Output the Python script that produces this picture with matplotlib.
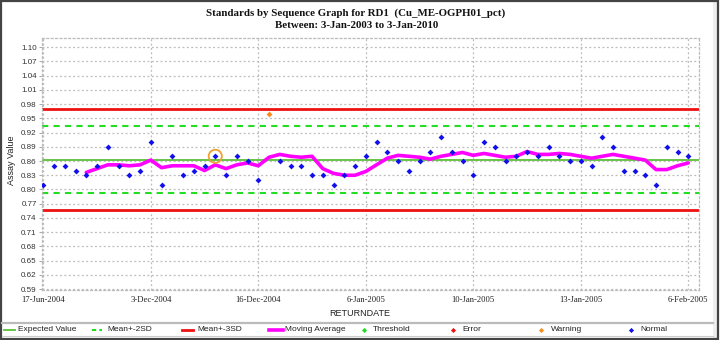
import matplotlib
matplotlib.use("Agg")
import matplotlib.pyplot as plt
from matplotlib.lines import Line2D
from matplotlib.patches import Rectangle

# ---- data ----
values = [0.81, 0.85, 0.85, 0.84, 0.83, 0.85, 0.89, 0.85, 0.83, 0.84,
          0.90, 0.81, 0.87, 0.83, 0.84, 0.85, 0.87, 0.83, 0.87, 0.86,
          0.82, 0.96, 0.86, 0.85, 0.85, 0.83, 0.83, 0.81, 0.83, 0.85,
          0.87, 0.90, 0.88, 0.86, 0.84, 0.86, 0.88, 0.91, 0.88, 0.86,
          0.83, 0.90, 0.89, 0.86, 0.87, 0.88, 0.87, 0.89, 0.87, 0.86,
          0.86, 0.85, 0.91, 0.89, 0.84, 0.84, 0.83, 0.81, 0.89, 0.88,
          0.87]
status = ["Normal"] * len(values)
status[21] = "Warning"
highlight_index = 16

moving_avg = [0.836, 0.844, 0.852, 0.852, 0.850, 0.852, 0.862, 0.846, 0.850,
              0.850, 0.850, 0.840, 0.852, 0.844, 0.852, 0.856, 0.850, 0.868,
              0.874, 0.870, 0.868, 0.870, 0.844, 0.834, 0.830, 0.830, 0.838,
              0.852, 0.866, 0.872, 0.870, 0.868, 0.864, 0.870, 0.874, 0.878,
              0.872, 0.876, 0.872, 0.868, 0.870, 0.880, 0.874, 0.874, 0.876,
              0.874, 0.870, 0.866, 0.870, 0.874, 0.870, 0.866, 0.862, 0.842,
              0.842, 0.850, 0.856]
ma_start = 4

expected = 0.863
sd2_upper, sd2_lower = 0.934, 0.792
sd3_upper, sd3_lower = 0.969, 0.756

tick_positions = [0, 10, 20, 30, 40, 50, 60]
tick_labels = ["17-Jun-2004", "3-Dec-2004", "16-Dec-2004", "6-Jan-2005",
               "10-Jan-2005", "13-Jan-2005", "6-Feb-2005"]
yticks = [0.59, 0.62, 0.65, 0.68, 0.71, 0.74, 0.77, 0.80, 0.83, 0.86,
          0.89, 0.92, 0.95, 0.98, 1.01, 1.04, 1.07, 1.10]

title1 = "Standards by Sequence Graph for RD1  (Cu_ME-OGPH01_pct)"
title2 = "Between: 3-Jan-2003 to 3-Jan-2010"

# ---- figure ----
W, H = 720, 340
fig = plt.figure(figsize=(W / 100, H / 100), dpi=100)
fig.patch.set_facecolor("white")

def fx(px):
    return px / W

def fy(py):
    return 1 - py / H

ax = fig.add_axes([fx(42.3), fy(290), fx(699) - fx(42.3), fy(38) - fy(290)])

xs = list(range(len(values)))
ax.set_xlim(-0.09, 61.0)
ax.set_ylim(0.588, 1.1195)

# gridlines
for yv in yticks:
    ax.axhline(yv, color="#bbbbbb", lw=0.9, ls=(0, (1.5, 2)), zorder=0)
for xv in tick_positions:
    ax.axvline(xv, color="#bbbbbb", lw=0.9, ls=(0, (1.5, 2)), zorder=0)

for s in ax.spines.values():
    s.set_color("#bbbbbb")
    s.set_linestyle((0, (1.5, 2)))
    s.set_linewidth(0.9)

# control lines
ax.axhline(expected, color="#5cbf3a", lw=1.3, zorder=2)
ax.axhline(sd2_upper, color="#22dd22", lw=1.5, ls=(0, (3, 2.5)), zorder=2)
ax.axhline(sd2_lower, color="#22dd22", lw=1.5, ls=(0, (3, 2.5)), zorder=2)
ax.axhline(sd3_upper, color="#ee1111", lw=2.0, zorder=2)
ax.axhline(sd3_lower, color="#ee1111", lw=2.0, zorder=2)

# moving average
ma_x = list(range(ma_start, ma_start + len(moving_avg)))
ax.plot(ma_x, moving_avg, color="#ff00ff", lw=2.6, zorder=3,
        solid_joinstyle="round", solid_capstyle="round")

# points
nx = [x for x, s in zip(xs, status) if s == "Normal"]
ny = [v for v, s in zip(values, status) if s == "Normal"]
wx = [x for x, s in zip(xs, status) if s == "Warning"]
wy = [v for v, s in zip(values, status) if s == "Warning"]
ax.scatter(nx, ny, s=9, marker="D", color="#1010ee", zorder=4, linewidths=0)
ax.scatter(wx, wy, s=9, marker="D", color="#ff8c1a", zorder=4, linewidths=0)
ax.scatter([xs[highlight_index]], [values[highlight_index]], s=90,
           facecolors="none", edgecolors="#f0a030", linewidths=1.3, zorder=5)

ax.set_xticks(tick_positions)
ax.set_xticklabels(tick_labels, fontfamily="Liberation Serif", fontsize=6.2,
                   color="#222222")
ax.set_yticks(yticks)
ax.set_yticklabels([f"{v:.2f}" for v in yticks], fontfamily="Liberation Sans",
                   fontsize=5.8, color="#333333")
ax.tick_params(axis="y", length=2.5, width=0.6, color="#999999", pad=1.5)
ax.tick_params(axis="x", length=0, pad=4)

fig.text(fx(12), fy(160), "Assay Value", rotation=90, ha="center", va="center",
         fontfamily="Liberation Sans", fontsize=6.5, color="#222222")
fig.text(fx(360), fy(313), "RETURNDATE", ha="center", va="center",
         fontfamily="Liberation Sans", fontsize=6.5, color="#222222")

fig.text(fx(356), fy(13), title1, ha="center", va="center",
         fontfamily="Liberation Serif", fontweight="bold", fontsize=7.8,
         color="#111111")
fig.text(fx(357), fy(26), title2, ha="center", va="center",
         fontfamily="Liberation Serif", fontweight="bold", fontsize=7.8,
         color="#111111")

# frame and legend separator
fig.add_artist(Rectangle((fx(713), 0), fx(717) - fx(713), 1, transform=fig.transFigure,
                         facecolor="#eeeeee", edgecolor="none"))
fig.add_artist(Rectangle((fx(1), fy(339)), fx(718) - fx(1), fy(1) - fy(339),
                         transform=fig.transFigure, facecolor="none",
                         edgecolor="#444444", lw=1.6))
fig.add_artist(Line2D([fx(2), fx(713)], [fy(322.5), fy(322.5)], transform=fig.transFigure,
                      color="#bbbbbb", lw=1.6))
fig.add_artist(Line2D([fx(2), fx(713)], [fy(335.5), fy(335.5)], transform=fig.transFigure,
                      color="#cccccc", lw=0.8))

# legend (manual)
leg_y = fy(329.5)
legend_font = dict(fontfamily="Liberation Sans", fontsize=6.0, color="#222222",
                   va="center", ha="left")
line_items = [
    (4, 15, 18, "Expected Value", "#5cbf3a", "-", 1.3),
    (92, 102, 107, "Mean+-2SD", "#22dd22", (0, (2, 1.5)), 1.5),
    (182, 193, 197, "Mean+-3SD", "#ee1111", "-", 2.0),
    (269, 283, 285, "Moving Average", "#ff00ff", "-", 2.6),
]
for x0, x1, tx, label, col, ls, lw in line_items:
    fig.add_artist(Line2D([fx(x0), fx(x1)], [leg_y, leg_y], transform=fig.transFigure,
                          color=col, ls=ls, lw=lw))
    fig.text(fx(tx), leg_y, label, **legend_font)

marker_items = [
    (364, 373, "Threshold", "#22dd22"),
    (453, 462, "Error", "#ee1111"),
    (541, 551, "Warning", "#ff8c1a"),
    (631, 640, "Normal", "#1010ee"),
]
for mx, tx, label, col in marker_items:
    fig.add_artist(Line2D([fx(mx)], [leg_y], transform=fig.transFigure,
                          marker="D", markersize=2.6, color=col, lw=0,
                          markeredgewidth=0))
    fig.text(fx(tx), leg_y, label, **legend_font)

fig.savefig("out.png", dpi=100, facecolor="white")
